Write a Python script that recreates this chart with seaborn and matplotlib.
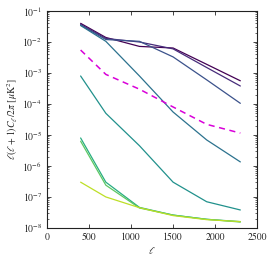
import numpy as np
import pandas as pd
import matplotlib
matplotlib.use('Agg')
import matplotlib.pyplot as plt
import seaborn as sns

sns.set_style('ticks')
plt.rcParams['font.family'] = 'serif'
plt.rcParams['font.serif'] = ['STIXGeneral', 'Liberation Serif', 'DejaVu Serif']
plt.rcParams['mathtext.fontset'] = 'stix'
plt.rcParams['xtick.direction'] = 'in'
plt.rcParams['ytick.direction'] = 'in'

# multipole bins
ell = [400, 700, 1100, 1500, 1900, 2300]

# spectra (uK^2)
cl_0 = [0.040, 0.014, 0.0072, 0.0064, 0.0019, 0.00056]
cl_1 = [0.037, 0.013, 0.0100, 0.0060, 0.0015, 0.00038]
cl_2 = [0.035, 0.012, 0.0105, 0.0033, 0.00060, 0.000105]
cl_3 = [0.034, 0.0105, 8e-4, 5.5e-5, 6.9e-6, 1.35e-6]
cl_4 = [8e-4, 5e-5, 4.5e-6, 3e-7, 7e-8, 3.8e-8]
cl_5 = [8e-6, 3e-7, 4.6e-8, 2.6e-8, 1.9e-8, 1.6e-8]
cl_6 = [6.3e-6, 2.4e-7, 4.4e-8, 2.6e-8, 1.9e-8, 1.55e-8]
cl_7 = [3e-7, 1e-7, 4.5e-8, 2.5e-8, 1.85e-8, 1.6e-8]
cl_dash = [5.5e-3, 9e-4, 3e-4, 8e-5, 2.2e-5, 1.15e-5]

series = [cl_0, cl_1, cl_2, cl_3, cl_4, cl_5, cl_6, cl_7]
colors = ['#440154', '#472c7a', '#3b528b', '#2c728e', '#21918c', '#27ad81', '#5cc863', '#bddf26']

fig = plt.figure(figsize=(2.74, 2.62), dpi=100)
ax = fig.add_axes([0.1715, 0.13, 0.767, 0.828])

for cl, c in zip(series, colors):
    df = pd.DataFrame({'ell': ell, 'cl': cl})
    sns.lineplot(data=df, x='ell', y='cl', color=c, lw=0.9, ax=ax)

df = pd.DataFrame({'ell': ell, 'cl': cl_dash})
sns.lineplot(data=df, x='ell', y='cl', color='#d900d9', lw=1.1, ax=ax)
ax.lines[-1].set_dashes([4, 3])

ax.set_yscale('log')
ax.set_xlim(0, 2500)
ax.set_ylim(1e-8, 1e-1)
ax.set_xticks([0, 500, 1000, 1500, 2000, 2500])
ax.set_xlabel(r'$\ell$', fontsize=7, labelpad=2)
ax.set_ylabel(r'$\ell(\ell+1)C_\ell/2\pi\ [\mu\mathrm{K}^2]$', fontsize=7, labelpad=2)
ax.tick_params(which='both', top=True, right=True, labelsize=7)
ax.tick_params(which='major', length=3, width=0.6)
ax.tick_params(which='minor', length=1.5, width=0.5)
for s in ax.spines.values():
    s.set_linewidth(0.8)
    s.set_color('#222222')

fig.savefig('out.png', dpi=100)
